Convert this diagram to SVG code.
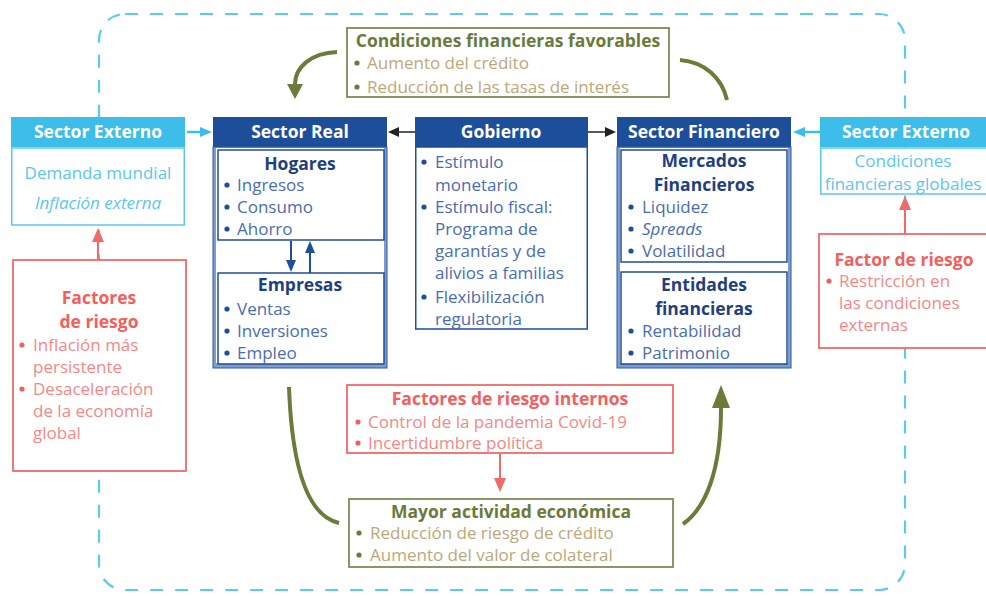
<svg xmlns="http://www.w3.org/2000/svg" width="986" height="596" viewBox="0 0 986 596">
<defs>
<style>
text{font-family:"Open Sans","Noto Sans","Liberation Sans",sans-serif;font-size:17px}
.m{text-anchor:middle}
.wh{fill:#ffffff;font-weight:bold;font-size:17.5px}
.lb{fill:#5cc6ee}
.nav{fill:#1f3f80;font-weight:bold;font-size:17.5px}
.bl{fill:#4a6cb0}
.rt{fill:#f2605e;font-weight:bold;font-size:17.5px}
.ri{fill:#f48886}
.ot{fill:#6b7a3a;font-weight:bold;font-size:17.5px}
.oi{fill:#bba878}
.hdrL{fill:#3dbde9}
.hdrD{fill:#1d4e9a}
.bodyL{fill:#ffffff;stroke:#5cc6ee;stroke-width:1.5}
.bodyD{fill:#ffffff;stroke:#1d4e9a;stroke-width:1.5}
.frame{fill:#809ccb;stroke:#2d5aa0;stroke-width:1}
.inner{fill:#ffffff;stroke:#1d4e9a;stroke-width:1.5}
.red{fill:#ffffff;stroke:#f06a6a;stroke-width:1.8}
.olv{fill:#ffffff;stroke:#7e8b58;stroke-width:1.8}
.bb{fill:#1d4e9a}
.br{fill:#f2605e}
.bo{fill:#6b7a3a}
.g{fill:none;stroke:#6a7b3a;stroke-width:4}
</style>
<marker id="aLB" markerUnits="userSpaceOnUse" markerWidth="12" markerHeight="12" refX="0" refY="5" orient="auto"><path d="M0,0 L12,5 L0,10 z" fill="#3dbde9"/></marker>
<marker id="aK" markerUnits="userSpaceOnUse" markerWidth="12" markerHeight="12" refX="0" refY="5" orient="auto"><path d="M0,0 L11,5 L0,10 z" fill="#222222"/></marker>
<marker id="aR" markerUnits="userSpaceOnUse" markerWidth="16" markerHeight="14" refX="0" refY="6" orient="auto"><path d="M0,0 L14,6 L0,12 z" fill="#f06a6a"/></marker>
<marker id="aB" markerUnits="userSpaceOnUse" markerWidth="14" markerHeight="12" refX="0" refY="5" orient="auto"><path d="M0,0 L12,5 L0,10 z" fill="#1d4e9a"/></marker>
<marker id="aG1" markerUnits="userSpaceOnUse" markerWidth="18" markerHeight="18" refX="0" refY="8" orient="auto"><path d="M0,0 L15,8 L0,16 z" fill="#6a7b3a"/></marker>
<marker id="aG2" markerUnits="userSpaceOnUse" markerWidth="26" markerHeight="20" refX="0" refY="9" orient="auto"><path d="M0,0 L23,9 L0,18 z" fill="#6a7b3a"/></marker>
</defs>
<rect width="986" height="596" fill="#ffffff"/>
<g id="frame-dashed">
<rect x="99" y="14" width="806" height="576" rx="26" fill="none" stroke="#5ccaf0" stroke-width="2.2" stroke-dasharray="13 12"/>
</g>
<g id="sector-externo-izq">
<rect class="hdrL" x="11" y="117" width="174" height="30"/>
<text class="wh m" x="98" y="138">Sector Externo</text>
<rect class="bodyL" x="11.75" y="148" width="172.5" height="77"/>
<text class="lb m" x="98" y="179">Demanda mundial</text>
<text class="lb m" x="98" y="209" font-style="italic">Inflación externa</text>
</g>
<g id="factores-riesgo-izq">
<rect class="red" x="13" y="260" width="173" height="211"/>
<text class="rt m" x="99" y="304">Factores</text>
<text class="rt m" x="99" y="328">de riesgo</text>
<circle class="br" cx="22" cy="345" r="2.6"/><text class="ri" x="33" y="351">Inflación más</text>
<text class="ri" x="33" y="373">persistente</text>
<circle class="br" cx="22" cy="389" r="2.6"/><text class="ri" x="33" y="395">Desaceleración</text>
<text class="ri" x="33" y="417">de la economía</text>
<text class="ri" x="33" y="439">global</text>
</g>
<g id="sector-real">
<rect class="hdrD" x="213" y="117" width="174" height="30"/>
<text class="wh m" x="300" y="138">Sector Real</text>
<rect class="frame" x="213" y="147" width="174" height="221"/>
<rect x="216" y="148" width="168" height="215" fill="#ffffff"/>
<rect class="inner" x="218" y="150" width="166" height="90"/>
<text class="nav m" x="300" y="170">Hogares</text>
<circle class="bb" cx="227" cy="185" r="2.6"/><text class="bl" x="237" y="191">Ingresos</text>
<circle class="bb" cx="227" cy="207" r="2.6"/><text class="bl" x="237" y="213">Consumo</text>
<circle class="bb" cx="227" cy="229" r="2.6"/><text class="bl" x="237" y="235">Ahorro</text>
<rect class="inner" x="218" y="273" width="166" height="91"/>
<text class="nav m" x="300" y="291">Empresas</text>
<circle class="bb" cx="227" cy="309" r="2.6"/><text class="bl" x="237" y="315">Ventas</text>
<circle class="bb" cx="227" cy="331" r="2.6"/><text class="bl" x="237" y="337">Inversiones</text>
<circle class="bb" cx="227" cy="353" r="2.6"/><text class="bl" x="237" y="359">Empleo</text>
</g>
<g id="gobierno">
<rect class="hdrD" x="415" y="117" width="173" height="30"/>
<text class="wh m" x="501" y="138">Gobierno</text>
<rect class="bodyD" x="415.75" y="147" width="171.5" height="182"/>
<circle class="bb" cx="424" cy="162" r="2.6"/><text class="bl" x="435" y="168">Estímulo</text>
<text class="bl" x="435" y="191">monetario</text>
<circle class="bb" cx="424" cy="207" r="2.6"/><text class="bl" x="435" y="213">Estímulo fiscal:</text>
<text class="bl" x="435" y="235">Programa de</text>
<text class="bl" x="435" y="257">garantías y de</text>
<text class="bl" x="435" y="279">alivios a familias</text>
<circle class="bb" cx="424" cy="297" r="2.6"/><text class="bl" x="435" y="303">Flexibilización</text>
<text class="bl" x="435" y="325">regulatoria</text>
</g>
<g id="sector-financiero">
<rect class="hdrD" x="617" y="117" width="174" height="30"/>
<text class="wh m" x="704" y="138">Sector Financiero</text>
<rect class="frame" x="617" y="147" width="174" height="221"/>
<rect x="620" y="148" width="168" height="215" fill="#ffffff"/>
<rect class="inner" x="621" y="150" width="166" height="112"/>
<text class="nav m" x="704" y="167">Mercados</text>
<text class="nav m" x="704" y="191">Financieros</text>
<circle class="bb" cx="631" cy="207" r="2.6"/><text class="bl" x="642" y="213">Liquidez</text>
<circle class="bb" cx="631" cy="229" r="2.6"/><text class="bl" x="642" y="235" font-style="italic">Spreads</text>
<circle class="bb" cx="631" cy="251" r="2.6"/><text class="bl" x="642" y="257">Volatilidad</text>
<rect class="inner" x="621" y="272" width="166" height="92"/>
<text class="nav m" x="704" y="291">Entidades</text>
<text class="nav m" x="704" y="315">financieras</text>
<circle class="bb" cx="631" cy="331" r="2.6"/><text class="bl" x="642" y="337">Rentabilidad</text>
<circle class="bb" cx="631" cy="353" r="2.6"/><text class="bl" x="642" y="359">Patrimonio</text>
</g>
<g id="sector-externo-der">
<rect class="hdrL" x="820" y="117" width="170" height="30"/>
<text class="wh m" x="906" y="138">Sector Externo</text>
<rect class="bodyL" x="820.75" y="148" width="170" height="46"/>
<text class="lb m" x="903" y="167">Condiciones</text>
<text class="lb m" x="903" y="190">financieras globales</text>
</g>
<g id="factor-riesgo-der">
<rect class="red" x="819" y="234" width="172" height="114"/>
<text class="rt m" x="904" y="266">Factor de riesgo</text>
<circle class="br" cx="829" cy="281" r="2.6"/><text class="ri" x="839" y="287">Restricción en</text>
<text class="ri" x="839" y="309">las condiciones</text>
<text class="ri" x="839" y="331">externas</text>
</g>
<g id="condiciones-favorables">
<rect class="olv" x="347" y="28" width="322" height="69"/>
<text class="ot m" x="508" y="47">Condiciones financieras favorables</text>
<circle class="bo" cx="357" cy="63" r="2.6"/><text class="oi" x="367" y="69">Aumento del crédito</text>
<circle class="bo" cx="357" cy="87" r="2.6"/><text class="oi" x="367" y="93">Reducción de las tasas de interés</text>
</g>
<g id="factores-internos">
<rect class="red" x="347" y="385" width="326" height="68"/>
<text class="rt m" x="510" y="405">Factores de riesgo internos</text>
<circle class="br" cx="358" cy="422" r="2.6"/><text class="ri" x="368" y="428">Control de la pandemia Covid-19</text>
<circle class="br" cx="358" cy="443" r="2.6"/><text class="ri" x="368" y="449">Incertidumbre política</text>
</g>
<g id="mayor-actividad">
<rect class="olv" x="349" y="499" width="324" height="68"/>
<text class="ot m" x="511" y="518">Mayor actividad económica</text>
<circle class="bo" cx="359" cy="533" r="2.6"/><text class="oi" x="370" y="539">Reducción de riesgo de crédito</text>
<circle class="bo" cx="359" cy="555" r="2.6"/><text class="oi" x="370" y="561">Aumento del valor de colateral</text>
</g>
<g id="connectors">
<line x1="187" y1="132" x2="200" y2="132" stroke="#3dbde9" stroke-width="2.5" marker-end="url(#aLB)"/>
<line x1="820" y1="132" x2="805" y2="132" stroke="#3dbde9" stroke-width="2.5" marker-end="url(#aLB)"/>
<line x1="415" y1="132" x2="399" y2="132" stroke="#222222" stroke-width="1.5" marker-end="url(#aK)"/>
<line x1="588" y1="132" x2="605" y2="132" stroke="#222222" stroke-width="1.5" marker-end="url(#aK)"/>
<line x1="98" y1="260" x2="98" y2="242" stroke="#f06a6a" stroke-width="2" marker-end="url(#aR)"/>
<line x1="905" y1="234" x2="905" y2="210" stroke="#f06a6a" stroke-width="2" marker-end="url(#aR)"/>
<line x1="500" y1="454" x2="500" y2="478" stroke="#f06a6a" stroke-width="2" marker-end="url(#aR)"/>
<line x1="291" y1="241" x2="291" y2="260" stroke="#1d4e9a" stroke-width="2" marker-end="url(#aB)"/>
<line x1="310" y1="273" x2="310" y2="253" stroke="#1d4e9a" stroke-width="2" marker-end="url(#aB)"/>
<path class="g" d="M337,52 C310,53 295,68 295,84" marker-end="url(#aG1)"/>
<path class="g" d="M680,60 C705,62 722,78 727,100"/>
<path class="g" d="M289,387 C292,470 308,516 339,523"/>
<path class="g" d="M683,524 C706,508 721,470 721,408" marker-end="url(#aG2)"/>
</g>
</svg>
